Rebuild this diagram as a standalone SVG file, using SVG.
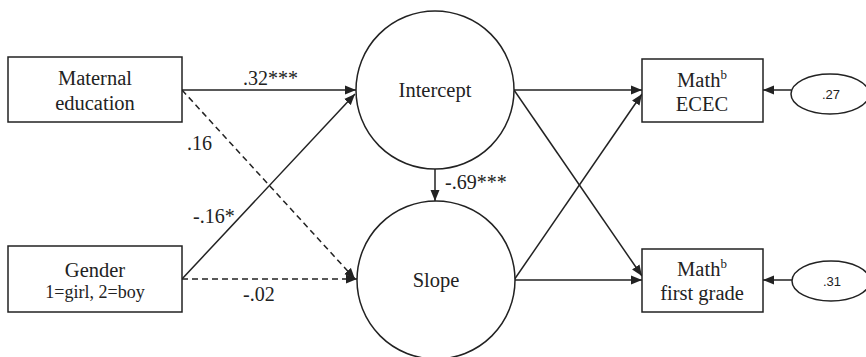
<svg xmlns="http://www.w3.org/2000/svg" width="866" height="357" viewBox="0 0 866 357">
<style>
.box{fill:#fff;stroke:#222;stroke-width:1.5}
.lat{fill:#fff;stroke:#222;stroke-width:1.5}
.t{font-family:"Liberation Serif","Times New Roman",serif;font-size:20.5px;fill:#222;text-anchor:middle}
.ts{font-family:"Liberation Serif","Times New Roman",serif;font-size:18px;fill:#222;text-anchor:middle}
.lab{font-family:"Liberation Serif","Times New Roman",serif;font-size:20px;fill:#222}
.e{font-family:"Liberation Sans",Arial,sans-serif;font-size:13px;fill:#222;text-anchor:middle}
.c{fill:none;stroke:#222;stroke-width:1.5;marker-end:url(#ah)}
.d{stroke-dasharray:6,4}
</style>
<defs>
<marker id="ah" markerUnits="userSpaceOnUse" markerWidth="12" markerHeight="10" refX="11" refY="5" orient="auto">
<path d="M0,0.5 L11,5 L0,9.5 z" fill="#222"/>
</marker>
</defs>
<rect width="866" height="357" fill="#fff"/>
<g id="connectors">
<line class="c" x1="182" y1="90" x2="356" y2="90"/>
<line class="c d" x1="182" y1="90" x2="355" y2="279"/>
<line class="c" x1="182" y1="279" x2="355" y2="94"/>
<line class="c d" x1="182" y1="279" x2="357" y2="279"/>
<line class="c" x1="435" y1="169" x2="435" y2="201"/>
<line class="c" x1="514" y1="90" x2="642" y2="90"/>
<line class="c" x1="514" y1="90" x2="642" y2="276"/>
<line class="c" x1="514" y1="280" x2="642" y2="94"/>
<line class="c" x1="514" y1="280" x2="642" y2="280"/>
<line class="c" x1="791" y1="90" x2="763" y2="90"/>
<line class="c" x1="792" y1="280" x2="763" y2="280"/>
<text class="lab" x="243" y="85">.32***</text>
<text class="lab" x="187" y="150">.16</text>
<text class="lab" x="193" y="223">-.16*</text>
<text class="lab" x="243" y="301">-.02</text>
<text class="lab" x="445" y="189">-.69***</text>
</g>
<g id="maternal">
<rect class="box" x="8" y="57" width="174" height="65"/>
<text class="t" x="95" y="85">Maternal</text>
<text class="t" x="95" y="110">education</text>
</g>
<g id="gender">
<rect class="box" x="8" y="246" width="174" height="66"/>
<text class="t" x="95" y="277">Gender</text>
<text class="ts" x="95" y="298">1=girl, 2=boy</text>
</g>
<g id="intercept">
<circle class="lat" cx="435" cy="90" r="79"/>
<text class="t" x="435" y="97">Intercept</text>
</g>
<g id="slope">
<circle class="lat" cx="436" cy="280" r="79"/>
<text class="t" x="436" y="287">Slope</text>
</g>
<g id="mathecec">
<rect class="box" x="642" y="59" width="121" height="63"/>
<text class="t" x="702" y="87">Math<tspan font-size="13" dy="-8">b</tspan></text>
<text class="t" x="702" y="111">ECEC</text>
</g>
<g id="mathfirst">
<rect class="box" x="642" y="249" width="121" height="63"/>
<text class="t" x="702" y="276">Math<tspan font-size="13" dy="-8">b</tspan></text>
<text class="t" x="702" y="300">first grade</text>
</g>
<g id="err1">
<ellipse class="lat" cx="830" cy="94" rx="39" ry="20"/>
<text class="e" x="831" y="99">.27</text>
</g>
<g id="err2">
<ellipse class="lat" cx="831" cy="281" rx="39" ry="20"/>
<text class="e" x="832" y="286">.31</text>
</g>
</svg>
